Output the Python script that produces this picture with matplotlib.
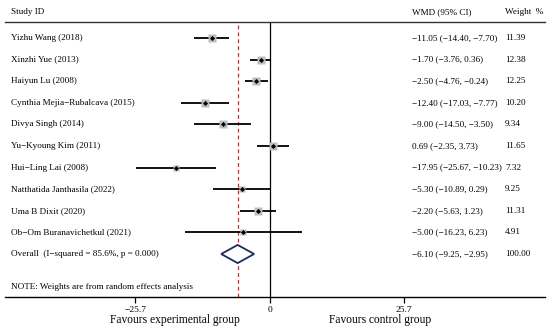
import matplotlib
matplotlib.use("Agg")
import matplotlib.pyplot as plt
import matplotlib.transforms as mtransforms
from matplotlib.patches import Polygon

plt.rcParams['font.family'] = ['Liberation Serif', 'DejaVu Serif']

studies = ["Yizhu Wang (2018)", "Xinzhi Yue (2013)", "Haiyun Lu (2008)",
           "Cynthia Mejia\u2212Rubalcava (2015)", "Divya Singh (2014)",
           "Yu\u2212Kyoung Kim (2011)", "Hui\u2212Ling Lai (2008)",
           "Natthatida Janthasila (2022)", "Uma B Dixit (2020)",
           "Ob\u2212Om Buranavichetkul (2021)"]
wmd = [-11.05, -1.70, -2.50, -12.40, -9.00, 0.69, -17.95, -5.30, -2.20, -5.00]
lo = [-14.40, -3.76, -4.76, -17.03, -14.50, -2.35, -25.67, -10.89, -5.63, -16.23]
hi = [-7.70, 0.36, -0.24, -7.77, -3.50, 3.73, -10.23, 0.29, 1.23, 6.23]
weights = [11.39, 12.38, 12.25, 10.20, 9.34, 11.65, 7.32, 9.25, 11.31, 4.91]
overall_label = "Overall  (I\u2212squared = 85.6%, p = 0.000)"
overall = (-6.10, -9.25, -2.95, 100.00)
ticks = [-25.7, 0, 25.7]
tick_labels = ["\u221225.7", "0", "25.7"]

def fmt(v):
    s = f"{v:.2f}"
    return s.replace("-", "\u2212")

W, H = 550, 336
fig = plt.figure(figsize=(W/100, H/100), dpi=100)
ax_left, ax_right, ax_top, ax_bot = 5, 545, 22, 297
ax = fig.add_axes([ax_left/W, 1-ax_bot/H, (ax_right-ax_left)/W, (ax_bot-ax_top)/H])

zero_px = 269.5
scale = 5.22
ax.set_xlim((ax_left-zero_px)/scale, (ax_right-zero_px)/scale)
row0_px, row_step = 38, 21.6
ax.set_ylim((ax_bot-row0_px)/row_step, (ax_top-row0_px)/row_step)

# null line and overall dashed line
ax.axvline(0, color='black', lw=0.9, zorder=1)
ax.axvline(overall[0], color='#a33a3a', lw=0.9, ls=(0, (3, 2.5)), zorder=1)

for i, (m, l, h, w) in enumerate(zip(wmd, lo, hi, weights)):
    ax.plot([l, h], [i, i], color='black', lw=1.3, solid_capstyle='butt', zorder=2)
    side_px = 2.3 * (w ** 0.5)
    ax.plot(m, i, marker='s', ms=side_px*0.72, color='#bdbdbd', mec='none', zorder=3)
    ax.plot(m, i, marker='D', ms=2.6, color='black', mec='none', zorder=4)

# overall diamond
yo = len(studies)
hh = 0.42
om, ol, oh, ow = overall
ax.add_patch(Polygon([[ol, yo], [om, yo-hh], [oh, yo], [om, yo+hh]], closed=True,
                     fc='white', ec='#1c2c5c', lw=1.3, zorder=5))

# spines
for s in ['left', 'right']:
    ax.spines[s].set_visible(False)
ax.spines['top'].set_linewidth(1.0)
ax.spines['top'].set_color('#333333')
ax.spines['bottom'].set_linewidth(1.0)
ax.set_yticks([])
ax.set_xticks(ticks)
ax.set_xticklabels(tick_labels, fontsize=6.8)
ax.tick_params(axis='x', length=4, width=0.9, pad=2.5)

tr = mtransforms.blended_transform_factory(fig.transFigure, ax.transData)
fs = 6.6
for i, name in enumerate(studies):
    ax.text(11/W, i, name, transform=tr, fontsize=fs, va='center', ha='left')
    ax.text(412/W, i, f"{fmt(wmd[i])} ({fmt(lo[i])}, {fmt(hi[i])})", transform=tr,
            fontsize=fs, va='center', ha='left')
    ax.text(505/W, i, f"{weights[i]:.2f}", transform=tr, fontsize=fs, va='center', ha='left')
ax.text(11/W, yo, overall_label, transform=tr, fontsize=fs, va='center', ha='left')
ax.text(412/W, yo, f"{fmt(om)} ({fmt(ol)}, {fmt(oh)})", transform=tr, fontsize=fs, va='center', ha='left')
ax.text(505/W, yo, f"{ow:.2f}", transform=tr, fontsize=fs, va='center', ha='left')
ax.text(11/W, (287-row0_px)/row_step, "NOTE: Weights are from random effects analysis",
        transform=tr, fontsize=fs, va='center', ha='left')

# header
hy = 1 - 12.5/H
fig.text(11/W, hy, "Study ID", fontsize=fs, va='center', ha='left')
fig.text(412/W, hy, "WMD (95% CI)", fontsize=fs, va='center', ha='left')
fig.text(505/W, hy, "Weight  %", fontsize=fs, va='center', ha='left')

fig.text(175/W, 1-320/H, "Favours experimental group", fontsize=8.3, va='center', ha='center')
fig.text(380/W, 1-320/H, "Favours control group", fontsize=8.3, va='center', ha='center')

fig.savefig("out.png", dpi=100)
